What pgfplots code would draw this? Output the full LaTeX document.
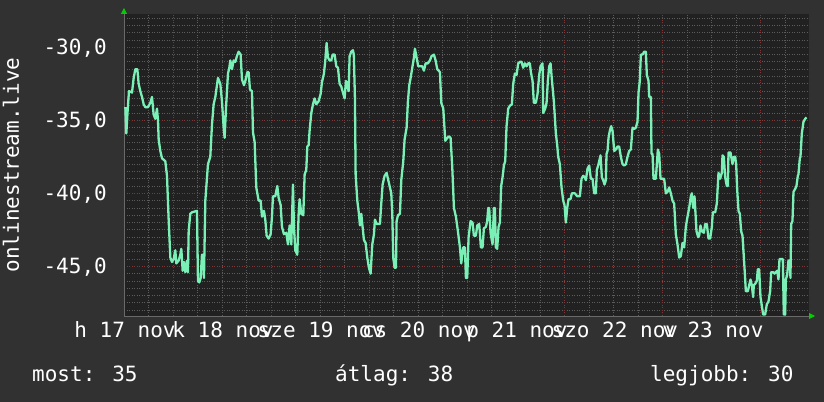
\documentclass[border=0pt]{standalone}
\usepackage{pgfplots}
\usepackage{pgfplotstable}
\pgfplotsset{compat=1.18}
\usepackage{fontspec}
\setmainfont{DejaVu Sans Mono}
\usetikzlibrary{arrows.meta}
\definecolor{outerbg}{HTML}{313131}
\definecolor{canvas}{HTML}{212121}
\definecolor{mingrid}{HTML}{5C5C5C}
\definecolor{majgrid}{HTML}{7E3838}
\definecolor{linec}{RGB}{122,240,182}
\definecolor{arrowc}{HTML}{00D000}
\definecolor{axisc}{HTML}{6A6A6A}
\newcommand{\rf}{\fontsize{21bp}{25bp}\selectfont}

\pgfplotstableread{
h v
0.33 -34.1
0.57 -35.9
0.90 -34.3
1.22 -33.0
1.96 -33.1
2.37 -32.1
2.78 -31.5
3.27 -31.5
3.59 -32.5
4.00 -33.0
4.41 -33.4
4.82 -33.9
5.22 -34.1
5.88 -34.1
6.45 -33.8
6.86 -33.4
7.26 -34.6
7.67 -34.9
8.08 -34.2
8.33 -35.0
8.49 -36.3
8.90 -37.1
9.31 -37.6
10.12 -37.8
10.53 -38.8
10.94 -41.8
11.35 -44.4
11.75 -44.7
12.16 -44.5
12.57 -43.9
12.82 -44.8
13.39 -44.6
13.80 -44.2
14.04 -43.8
14.37 -45.3
14.69 -44.7
15.02 -45.4
15.43 -44.6
15.67 -45.4
15.84 -42.6
16.24 -41.4
16.65 -41.3
17.88 -41.2
18.12 -46.0
18.45 -46.1
18.78 -45.8
19.10 -44.2
19.35 -44.2
19.59 -45.8
19.92 -40.5
20.57 -38.0
21.14 -37.5
21.55 -35.3
21.96 -33.9
22.37 -33.4
23.02 -32.1
23.59 -32.5
24.00 -33.7
24.41 -35.5
24.65 -36.2
24.98 -34.2
25.47 -31.8
25.80 -31.4
26.04 -30.9
26.45 -31.5
26.86 -30.9
27.27 -31.0
27.67 -30.6
28.08 -30.3
28.57 -30.5
28.90 -32.2
29.39 -32.6
29.72 -32.3
30.21 -31.7
30.53 -31.7
30.86 -32.9
31.35 -33.0
31.59 -35.8
32.00 -36.5
32.41 -39.6
32.98 -40.5
33.47 -40.5
33.80 -41.6
34.29 -41.2
34.61 -41.8
34.94 -42.9
35.43 -43.1
35.92 -42.8
36.25 -41.6
36.49 -40.2
37.06 -40.2
37.55 -39.5
37.88 -40.3
38.37 -40.8
38.70 -42.3
39.18 -42.8
39.76 -42.7
40.16 -43.5
40.57 -42.2
40.98 -43.5
41.39 -39.4
41.63 -42.3
41.96 -43.9
42.45 -44.2
42.78 -41.4
43.02 -40.4
43.43 -41.4
43.92 -41.5
44.25 -38.7
44.65 -38.4
44.90 -36.8
45.23 -36.7
45.47 -35.7
45.88 -34.5
46.29 -33.9
46.69 -33.5
47.10 -33.9
47.67 -33.7
48.16 -33.2
48.49 -32.4
48.98 -31.8
49.31 -30.9
49.63 -29.7
49.96 -30.7
50.37 -30.9
50.78 -30.9
51.10 -30.5
51.59 -30.5
52.00 -31.3
52.41 -31.4
52.82 -32.5
53.23 -32.7
53.63 -33.1
54.04 -33.5
54.37 -32.3
54.70 -32.6
55.02 -33.0
55.27 -30.6
55.67 -30.3
56.08 -30.2
56.30 -30.5
56.57 -33.5
56.74 -38.7
57.15 -40.5
57.55 -41.4
57.80 -42.2
58.13 -41.4
58.37 -42.1
58.78 -43.2
59.19 -43.4
59.60 -44.4
60.00 -45.1
60.41 -45.5
60.82 -43.5
61.23 -42.8
61.47 -41.8
61.88 -42.1
62.70 -42.1
63.02 -40.7
63.35 -39.4
63.84 -38.8
64.33 -38.6
64.66 -39.0
65.15 -39.6
65.47 -40.0
65.72 -41.4
65.96 -44.4
66.29 -45.1
66.62 -45.1
66.78 -41.9
67.11 -41.5
67.60 -41.4
67.92 -39.1
68.41 -37.8
68.74 -36.3
69.23 -35.5
69.55 -33.7
69.88 -32.6
70.21 -32.1
70.62 -31.4
71.02 -30.7
71.27 -30.1
71.60 -30.6
72.08 -31.3
72.49 -31.3
73.06 -31.3
73.47 -31.6
73.88 -31.1
74.45 -31.1
74.94 -30.9
75.35 -30.6
75.92 -30.5
76.33 -30.9
76.74 -31.5
77.39 -31.7
77.72 -33.8
78.21 -34.2
78.70 -36.4
79.19 -36.2
79.68 -36.1
80.00 -36.2
80.41 -38.2
80.82 -41.0
81.31 -41.6
81.80 -42.6
82.29 -43.7
82.61 -44.8
83.10 -43.7
83.51 -43.7
83.76 -45.8
84.08 -45.8
84.41 -43.0
84.90 -41.9
85.38 -42.0
85.71 -42.9
86.20 -42.9
86.53 -42.2
87.02 -42.1
87.42 -43.7
87.83 -43.7
88.16 -42.4
88.65 -42.3
88.97 -41.9
89.22 -41.0
89.46 -41.0
89.79 -42.7
90.28 -43.5
90.61 -41.0
90.85 -41.0
91.10 -43.7
91.42 -43.8
91.75 -42.3
92.08 -42.0
92.40 -39.5
92.73 -38.9
93.06 -38.1
93.38 -37.8
93.71 -35.4
94.12 -34.2
94.53 -34.0
95.02 -33.9
95.34 -32.5
95.75 -31.8
96.16 -31.9
96.57 -31.1
96.97 -31.0
97.38 -31.0
97.79 -31.4
98.20 -31.1
98.61 -31.3
99.02 -31.1
99.42 -31.1
99.67 -31.7
100.08 -32.3
100.40 -33.8
100.89 -33.8
101.30 -33.2
101.71 -31.9
102.04 -31.3
102.53 -31.1
102.69 -34.5
103.18 -34.2
103.51 -33.8
103.83 -32.3
104.16 -31.3
104.49 -31.1
104.81 -32.2
105.30 -33.7
105.79 -35.9
106.12 -36.7
106.36 -37.5
106.77 -38.0
107.18 -39.6
107.59 -40.5
107.91 -40.8
108.24 -42.0
108.57 -41.0
108.89 -40.4
109.38 -40.4
109.71 -40.0
110.44 -40.0
111.01 -40.2
111.67 -40.2
112.08 -39.0
112.49 -38.8
112.89 -38.9
113.14 -39.1
113.55 -38.3
113.96 -38.1
114.36 -39.0
114.77 -39.0
115.18 -40.0
115.59 -40.0
115.83 -38.4
116.24 -38.0
116.73 -37.4
117.06 -38.9
117.38 -39.1
117.71 -39.4
118.04 -39.1
118.20 -37.3
118.45 -37.1
118.69 -36.2
119.02 -35.7
119.34 -35.4
119.67 -35.7
120.08 -37.1
120.49 -37.0
120.89 -36.8
121.30 -36.8
121.71 -37.5
122.12 -38.0
122.53 -38.1
122.94 -38.0
123.34 -37.5
123.75 -37.1
124.16 -37.0
124.57 -35.5
124.98 -35.6
125.38 -35.5
125.79 -35.1
126.04 -33.1
126.36 -32.3
126.61 -30.5
127.02 -30.5
127.43 -30.3
127.83 -30.3
128.08 -31.9
128.49 -32.3
128.65 -33.4
129.06 -33.4
129.22 -37.3
129.47 -37.3
129.71 -39.0
130.28 -39.0
130.53 -38.0
130.77 -37.0
131.10 -37.3
131.43 -39.0
132.32 -39.0
132.73 -40.0
133.14 -39.9
133.55 -39.6
133.96 -40.0
134.36 -40.5
134.77 -40.7
135.18 -42.8
135.59 -43.5
136.00 -44.4
136.40 -44.3
136.81 -43.4
137.22 -43.7
137.63 -42.3
138.04 -41.6
138.45 -41.0
138.85 -40.2
139.10 -40.0
139.43 -41.0
139.75 -40.2
139.92 -41.0
140.24 -42.6
140.65 -43.0
140.89 -42.9
141.22 -42.2
141.55 -42.6
142.04 -42.7
142.37 -42.1
142.77 -42.1
143.18 -43.1
143.59 -43.1
144.00 -42.3
144.24 -41.3
144.82 -41.3
145.22 -40.7
145.63 -38.6
146.04 -39.0
146.45 -38.6
146.61 -37.4
146.94 -37.5
147.26 -38.9
147.67 -39.5
147.92 -39.5
148.08 -37.2
148.57 -37.2
149.06 -38.0
149.39 -37.5
149.71 -37.5
149.96 -38.0
150.20 -39.7
150.53 -41.2
150.86 -41.4
151.18 -42.6
151.51 -42.9
152.00 -45.1
152.33 -46.7
152.82 -46.7
153.14 -46.3
153.47 -45.9
153.80 -46.3
154.12 -47.1
154.28 -46.3
154.61 -46.2
155.02 -46.0
155.26 -45.2
155.59 -45.2
155.92 -47.1
156.24 -47.7
156.57 -48.3
157.06 -48.3
157.47 -47.6
157.88 -47.4
158.28 -46.7
158.53 -45.4
159.02 -45.4
159.35 -45.5
159.67 -45.4
160.00 -45.3
160.33 -45.9
160.57 -44.5
161.39 -44.5
161.63 -48.3
161.96 -48.3
162.12 -45.9
162.45 -45.6
162.77 -44.6
163.10 -44.6
163.26 -45.8
163.43 -42.1
163.75 -41.9
164.00 -39.9
164.41 -39.7
164.73 -39.5
165.06 -38.8
165.22 -38.7
165.55 -37.6
165.71 -37.5
166.04 -35.9
166.45 -35.1
166.86 -34.9
167.18 -34.8
}\datatable

\begin{document}
\begin{tikzpicture}
\fill[outerbg] (0,0) rectangle (824bp,402bp);
\begin{axis}[
  at={(124bp,86bp)}, anchor=south west,
  scale only axis, width=685bp, height=302bp,
  xmin=0, xmax=167.8, ymin=-48.4, ymax=-27.72,
  axis background/.style={fill=canvas},
  axis x line=bottom, axis y line=left,
  axis line style={draw=axisc, line width=0.8bp},
  x axis line style={-{Triangle[color=arrowc,length=6bp,width=6bp]}, shorten >=-6bp},
  y axis line style={-{Triangle[color=arrowc,length=6bp,width=6bp]}, shorten >=-6bp},
  major tick length=0pt, minor tick length=0pt,
  xtick={0,24,48,72,96,120,144},
  xticklabels={h 17 nov, k 18 nov, sze 19 nov, cs 20 nov, p 21 nov, szo 22 nov, v 23 nov},
  minor xtick={6,18,24,30,42,48,54,66,72,78,90,96,102,114,120,126,138,144,150,162},
  xminorgrids=true,
  extra x ticks={12,36,60,84,108,132,156},
  extra x tick labels={},
  extra x tick style={grid=major, major grid style={majgrid, dash pattern=on 1bp off 1.5bp, line width=0.8bp}},
  ytick={-45,-40,-35,-30},
  yticklabels={{-45,0},{-40,0},{-35,0},{-30,0}},
  minor ytick={-48,-47.5,-47,-46.5,-46,-45.5,-44.5,-44,-43.5,-43,-42.5,-42,-41.5,-41,-40.5,-39.5,-39,-38.5,-38,-37.5,-37,-36.5,-36,-35.5,-34.5,-34,-33.5,-33,-32.5,-32,-31.5,-31,-30.5,-29.5,-29,-28.5,-28},
  ymajorgrids=true, yminorgrids=true,
  minor grid style={mingrid, dash pattern=on 1bp off 1.5bp, line width=0.8bp},
  major grid style={majgrid, dash pattern=on 1bp off 1.5bp, line width=0.8bp},
  xticklabel style={font=\rf, text=white, anchor=base, yshift=-22bp, xshift=1bp},
  yticklabel style={font=\rf, text=white, anchor=base east, inner sep=0pt, xshift=-17bp, yshift=-7.6bp},
  ylabel={onlinestream.live},
  ylabel style={font=\rf, text=white, at={(axis description cs:-0.165,0.5)}, anchor=center},
]
\addplot[linec, line width=2.3bp, line join=round] table[x=h, y=v] {\datatable};
\end{axis}
\node[anchor=base west, text=white, font=\rf, inner sep=0pt] at (32bp,21bp) {most: 35};
\node[anchor=base west, text=white, font=\rf, inner sep=0pt] at (335bp,21bp) {átlag: 38};
\node[anchor=base west, text=white, font=\rf, inner sep=0pt] at (650bp,21bp) {legjobb: 30};
\pgfresetboundingbox
\path (0,0) rectangle (824bp,402bp);
\end{tikzpicture}
\end{document}
